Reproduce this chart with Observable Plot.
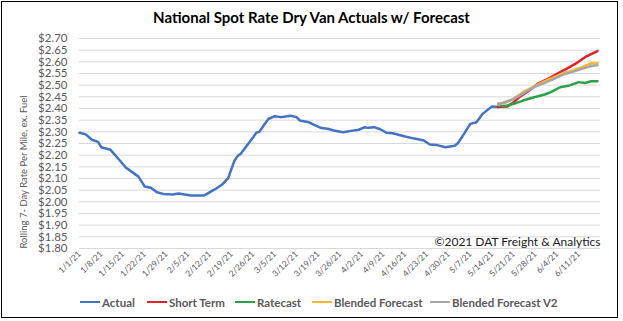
<!DOCTYPE html>
<html><head><meta charset="utf-8">
<script src="https://cdn.jsdelivr.net/npm/d3@7"></script>
<script src="https://cdn.jsdelivr.net/npm/@observablehq/plot@0.6"></script>
<style>
body{margin:0;background:#fff;}
#wrap{position:relative;width:623px;height:321px;overflow:hidden;font-family:Lato,sans-serif;background:#fff;}
#frame{position:absolute;left:1px;top:1px;width:615px;height:315px;border:1.5px solid #000;}
#title{position:absolute;top:8px;left:0;width:623px;text-align:center;font-weight:700;font-size:15px;color:#000;}
#ylab{position:absolute;left:23px;top:172px;transform:translate(-50%,-50%) rotate(-90deg);font-size:9.5px;color:#595959;white-space:nowrap;}
#chart{position:absolute;left:0;top:0;}
.leg{position:absolute;top:295px;height:14px;display:flex;align-items:center;font-size:11.5px;font-weight:700;color:#595959;white-space:nowrap;}
.leg span.sw{display:inline-block;width:20px;height:2.5px;margin-right:2px;}
</style></head>
<body>
<div id="wrap">
  <div id="frame"></div>
  <div id="title">National Spot Rate Dry Van Actuals w/ Forecast</div>
  <div id="ylab">Rolling 7- Day Rate Per Mile, ex. Fuel</div>
  <div id="chart"></div>
</div>
<script>
// ---- data ----
const seriesNames = ["Actual", "Short Term", "Ratecast", "Blended Forecast", "Blended Forecast V2"];
const seriesColors = ["#4472C4", "#E4202A", "#27A248", "#F4B836", "#A6A6A6"];

const xTickLabels = ["1/1/21","1/8/21","1/15/21","1/22/21","1/29/21","2/5/21","2/12/21","2/19/21","2/26/21","3/5/21","3/12/21","3/19/21","3/26/21","4/2/21","4/9/21","4/16/21","4/23/21","4/30/21","5/7/21","5/14/21","5/21/21","5/28/21","6/4/21","6/11/21"];
const yTicks = [1.80,1.85,1.90,1.95,2.00,2.05,2.10,2.15,2.20,2.25,2.30,2.35,2.40,2.45,2.50,2.55,2.60,2.65,2.70];

const actualDates = ["1/1/21","1/3/21","1/5/21","1/7/21","1/8/21","1/11/21","1/12/21","1/14/21","1/16/21","1/17/21","1/20/21","1/22/21","1/24/21","1/26/21","1/28/21","1/31/21","2/2/21","2/4/21","2/6/21","2/10/21","2/11/21","2/13/21","2/14/21","2/16/21","2/18/21","2/19/21","2/20/21","2/21/21","2/22/21","2/24/21","2/26/21","2/27/21","2/28/21","3/2/21","3/3/21","3/5/21","3/7/21","3/9/21","3/10/21","3/12/21","3/13/21","3/16/21","3/18/21","3/20/21","3/22/21","3/24/21","3/27/21","3/29/21","4/1/21","4/3/21","4/4/21","4/6/21","4/8/21","4/10/21","4/12/21","4/16/21","4/19/21","4/22/21","4/24/21","4/26/21","4/29/21","5/2/21","5/3/21","5/5/21","5/7/21","5/9/21","5/11/21","5/14/21","5/16/21"];
const actualValues = [2.296,2.289,2.266,2.257,2.234,2.223,2.208,2.177,2.146,2.137,2.108,2.066,2.060,2.041,2.034,2.031,2.036,2.031,2.027,2.027,2.033,2.049,2.056,2.074,2.103,2.141,2.177,2.196,2.206,2.241,2.277,2.296,2.300,2.339,2.356,2.367,2.363,2.367,2.369,2.363,2.349,2.341,2.328,2.316,2.313,2.306,2.298,2.303,2.309,2.320,2.317,2.320,2.311,2.296,2.294,2.280,2.271,2.263,2.246,2.244,2.234,2.240,2.251,2.291,2.334,2.341,2.377,2.409,2.406];

const shortTermDates = ["5/16/21","5/19/21","5/21/21","5/23/21","5/26/21","5/29/21","6/1/21","6/4/21","6/7/21","6/10/21","6/13/21","6/17/21"];
const shortTermValues = [2.406,2.409,2.427,2.451,2.477,2.508,2.527,2.549,2.570,2.592,2.620,2.646];

const ratecastDates = ["5/17/21","5/19/21","5/21/21","5/24/21","5/27/21","5/31/21","6/2/21","6/5/21","6/8/21","6/11/21","6/13/21","6/15/21","6/17/21"];
const ratecastValues = [2.410,2.413,2.420,2.434,2.446,2.460,2.470,2.491,2.499,2.513,2.509,2.517,2.517];

const blendedDates = ["5/16/21","5/18/21","5/21/21","5/24/21","5/27/21","5/31/21","6/3/21","6/6/21","6/9/21","6/12/21","6/15/21","6/17/21"];
const blendedValues = [2.423,2.423,2.442,2.470,2.491,2.517,2.534,2.551,2.563,2.577,2.594,2.594];

const blendedV2Dates = ["5/16/21","5/21/21","5/24/21","5/27/21","5/31/21","6/3/21","6/6/21","6/9/21","6/12/21","6/15/21","6/17/21"];
const blendedV2Values = [2.417,2.440,2.465,2.488,2.510,2.527,2.545,2.557,2.570,2.582,2.585];

const copyright = "©2021 DAT Freight & Analytics";

// ---- build ----
function parseMDY(s){const [m,d,y]=s.split("/").map(Number);return new Date(Date.UTC(2000+y,m-1,d));}
function rows(dates, values, name){return dates.map((d,i)=>({date:parseMDY(d), value:values[i], series:name}));}
const allRows = [
  ...rows(actualDates, actualValues, seriesNames[0]),
  ...rows(shortTermDates, shortTermValues, seriesNames[1]),
  ...rows(ratecastDates, ratecastValues, seriesNames[2]),
  ...rows(blendedDates, blendedValues, seriesNames[3]),
  ...rows(blendedV2Dates, blendedV2Values, seriesNames[4])
];
const xTicks = xTickLabels.map(parseMDY);
const fmtTick = d => `${d.getUTCMonth()+1}/${d.getUTCDate()}/${String(d.getUTCFullYear()).slice(2)}`;

const chart = Plot.plot({
  width: 623, height: 290,
  marginLeft: 79, marginRight: 23, marginTop: 38, marginBottom: 42,
  x: {type: "utc", domain: [parseMDY("1/1/21"), parseMDY("6/18/21")]},
  y: {domain: [1.80, 2.70]},
  color: {domain: seriesNames, range: seriesColors},
  style: {fontFamily: "Lato, sans-serif", background: "transparent", color: "#595959", overflow: "visible"},
  marks: [
    Plot.ruleY(yTicks, {stroke: "#d9d9d9", strokeWidth: 1}),
    Plot.axisY({ticks: yTicks, tickSize: 0, tickPadding: 12, tickFormat: d => "$" + d.toFixed(2), fontSize: 11.5, label: null}),
    Plot.axisX({ticks: xTicks, tickSize: 0, tickPadding: 4, tickRotate: -45, tickFormat: fmtTick, fontSize: 8.5, label: null}),
    ...seriesNames.map(name => Plot.line(allRows.filter(r => r.series === name), {x: "date", y: "value", stroke: "series", strokeWidth: 2.5, strokeLinejoin: "round", curve: "linear"})),
    Plot.text([copyright], {frameAnchor: "bottom-right", textAnchor: "end", lineAnchor: "bottom", dy: -3, fontSize: 12, fill: "#1a1a1a"})
  ]
});
document.getElementById("chart").appendChild(chart);

// legend
const legendX = [80, 147, 235, 312, 430];
const wrap = document.getElementById("wrap");
seriesNames.forEach((name, i) => {
  const item = document.createElement("div");
  item.className = "leg";
  item.style.left = legendX[i] + "px";
  const sw = document.createElement("span");
  sw.className = "sw";
  sw.style.background = seriesColors[i];
  item.appendChild(sw);
  item.appendChild(document.createTextNode(name));
  wrap.appendChild(item);
});
</script>
</body></html>
